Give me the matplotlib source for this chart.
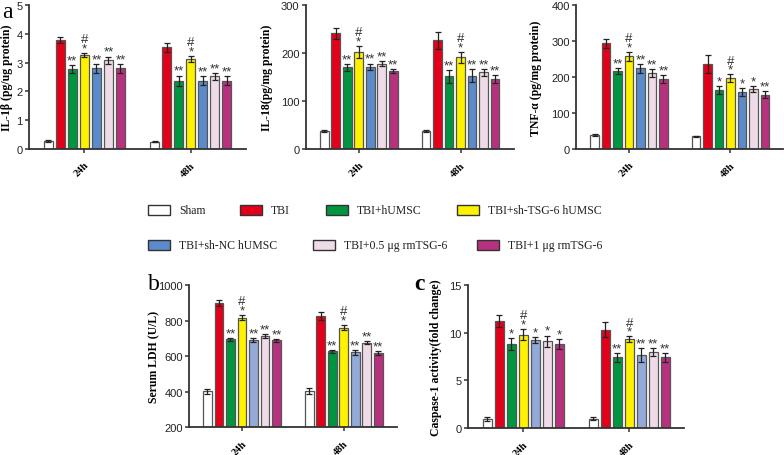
import numpy as np
from matplotlib import pyplot as plt
from matplotlib.patches import Rectangle

groups = ['Sham', 'TBI', 'TBI+hUMSC', 'TBI+sh-TSG-6 hUMSC',
          'TBI+sh-NC hUMSC', 'TBI+0.5 \u03bcg rmTSG-6', 'TBI+1 \u03bcg rmTSG-6']
timepoints = ['24h', '48h']

# values per time point, one entry per group
il1b_24 = [0.28, 3.78, 2.78, 3.25, 2.80, 3.08, 2.80]
il1b_48 = [0.26, 3.53, 2.37, 3.12, 2.37, 2.53, 2.37]
il1b_err_24 = [0.02, 0.10, 0.15, 0.07, 0.15, 0.13, 0.15]
il1b_err_48 = [0.02, 0.15, 0.18, 0.10, 0.16, 0.12, 0.16]

il18_24 = [37, 241, 170, 202, 171, 178, 163]
il18_48 = [37, 226, 151, 191, 153, 160, 146]
il18_err_24 = [2, 12, 7, 13, 7, 6, 4]
il18_err_48 = [2, 17, 13, 11, 13, 7, 9]

tnf_24 = [38, 293, 216, 257, 224, 211, 194]
tnf_48 = [35, 237, 163, 197, 158, 166, 151]
tnf_err_24 = [3, 12, 9, 12, 12, 11, 11]
tnf_err_48 = [2, 25, 11, 10, 11, 8, 9]

ldh_24 = [403, 901, 695, 818, 691, 714, 690]
ldh_48 = [406, 827, 627, 762, 622, 677, 617]
ldh_err_24 = [15, 15, 10, 15, 12, 10, 8]
ldh_err_48 = [17, 25, 8, 15, 12, 10, 10]

casp_24 = [0.98, 11.2, 8.8, 9.8, 9.2, 9.1, 8.8]
casp_48 = [0.98, 10.3, 7.4, 9.3, 7.65, 8.0, 7.4]
casp_err_24 = [0.2, 0.6, 0.6, 0.6, 0.3, 0.6, 0.5]
casp_err_48 = [0.15, 0.8, 0.5, 0.3, 0.7, 0.4, 0.45]

# significance marks above bars
marks_a = [['', '', '**', '#\n*', '**', '**', '**'],
           ['', '', '**', '#\n*', '**', '**', '**']]
marks_tnf = [['', '', '**', '#\n*', '**', '**', '**'],
             ['', '', '*', '#\n*', '*', '*', '**']]
marks_ldh = [['', '', '**', '#\n*', '**', '**', '**'],
             ['', '', '**', '#\n*', '**', '**', '**']]
marks_casp = [['', '', '*', '#\n*', '*', '*', '*'],
              ['', '', '**', '#\n*', '**', '**', '**']]

colors = ['#ffffff', '#e3001b', '#00963f', '#fff200', '#5b8bcb', '#eedbe7', '#b8317f']
colors_bc = ['#ffffff', '#e3001b', '#00963f', '#fff200', '#93aad8', '#eedbe7', '#b8317f']

SERIF = 'Liberation Serif'
SANS = 'Liberation Sans'
AXC = '#333333'


def bar_panel(fig, rect, vals, errs, marks, ylim, yticks, ylabel, cols, labx):
    ax = fig.add_axes(rect)
    n = len(groups)
    pitch = 0.113
    width = 0.085
    for t in range(len(timepoints)):
        for i in range(n):
            x = t + (i - (n - 1) / 2) * pitch
            ax.bar(x, vals[t][i] - ylim[0], width, bottom=ylim[0], color=cols[i],
                   edgecolor='#555555', linewidth=0.9, zorder=2)
            ax.errorbar(x, vals[t][i], yerr=errs[t][i], color='#222222',
                        elinewidth=0.9, capsize=2.5, capthick=0.9, zorder=3)
            if marks[t][i]:
                ax.annotate(marks[t][i], (x, vals[t][i] + errs[t][i]),
                            xytext=(0, -1), textcoords='offset points',
                            ha='center', va='bottom', fontsize=9.5,
                            family=SANS, color='#333333', linespacing=0.7)
    ax.set_xlim(-0.52, 1.52)
    ax.set_ylim(*ylim)
    ax.set_yticks(yticks)
    ax.set_xticks(range(len(timepoints)))
    ax.set_xticklabels(timepoints, rotation=45, ha='right', va='top',
                       family=SERIF, fontweight='bold', fontsize=7.5,
                       rotation_mode='anchor')
    for lab in ax.get_yticklabels():
        lab.set_family(SANS)
        lab.set_fontsize(8)
        lab.set_color('#222222')
    ax.tick_params(axis='both', direction='out', length=3, width=1.1, color=AXC, pad=1.5)
    ax.tick_params(axis='x', pad=5)
    for s in ['top', 'right']:
        ax.spines[s].set_visible(False)
    for s in ['left', 'bottom']:
        ax.spines[s].set_linewidth(1.3)
        ax.spines[s].set_color(AXC)
    ax.set_ylabel(ylabel, family=SERIF, fontweight='bold', fontsize=8.5)
    ax.yaxis.set_label_coords(labx, 0.5)
    return ax


fig = plt.figure(figsize=(7.84, 4.56), dpi=100)

bar_panel(fig, [0.037, 0.671, 0.277, 0.316], [il1b_24, il1b_48], [il1b_err_24, il1b_err_48],
          marks_a, (0, 5), range(0, 6), 'IL-1\u03b2 (pg/ug protein)', colors, -0.075)
bar_panel(fig, [0.390, 0.671, 0.265, 0.316], [il18_24, il18_48], [il18_err_24, il18_err_48],
          marks_a, (0, 300), range(0, 301, 100), 'IL-18(pg/mg protein)', colors, -0.16)
bar_panel(fig, [0.735, 0.671, 0.264, 0.316], [tnf_24, tnf_48], [tnf_err_24, tnf_err_48],
          marks_tnf, (0, 400), range(0, 401, 100), 'TNF-\u03b1 (pg/mg protein)', colors, -0.165)
bar_panel(fig, [0.241, 0.061, 0.265, 0.311], [ldh_24, ldh_48], [ldh_err_24, ldh_err_48],
          marks_ldh, (200, 1000), range(200, 1001, 200), 'Serum LDH (U/L)', colors_bc, -0.14)
bar_panel(fig, [0.597, 0.059, 0.276, 0.314], [casp_24, casp_48], [casp_err_24, casp_err_48],
          marks_casp, (0, 15), range(0, 16, 5), 'Caspase-1 activity(fold change)', colors_bc, -0.12)

# panel letters
fig.text(7 / 784, 1 - 12 / 456, 'a', family=SERIF, fontsize=17, ha='center', va='center')
fig.text(154 / 784, 1 - 284 / 456, 'b', family=SERIF, fontsize=17, ha='center', va='center')
fig.text(419 / 784, 1 - 285 / 456, 'c', family=SERIF, fontsize=17, ha='center', va='center',
         fontweight='bold')

# legend drawn by hand to match the staggered layout
legend_pos = [(148, 211), (240, 211), (326, 211), (457, 211),
              (148, 246), (313, 246), (477, 246)]
for (px, py), name, col in zip(legend_pos, groups, colors):
    fig.add_artist(Rectangle((px / 784, 1 - (py + 5) / 456), 22 / 784, 10 / 456,
                             transform=fig.transFigure, facecolor=col,
                             edgecolor='#333333', linewidth=1.0))
    fig.text((px + 31) / 784, 1 - py / 456, name, family=SERIF, fontsize=8.5,
             ha='left', va='center', color='#222222')

fig.savefig('out.png', dpi=100)
